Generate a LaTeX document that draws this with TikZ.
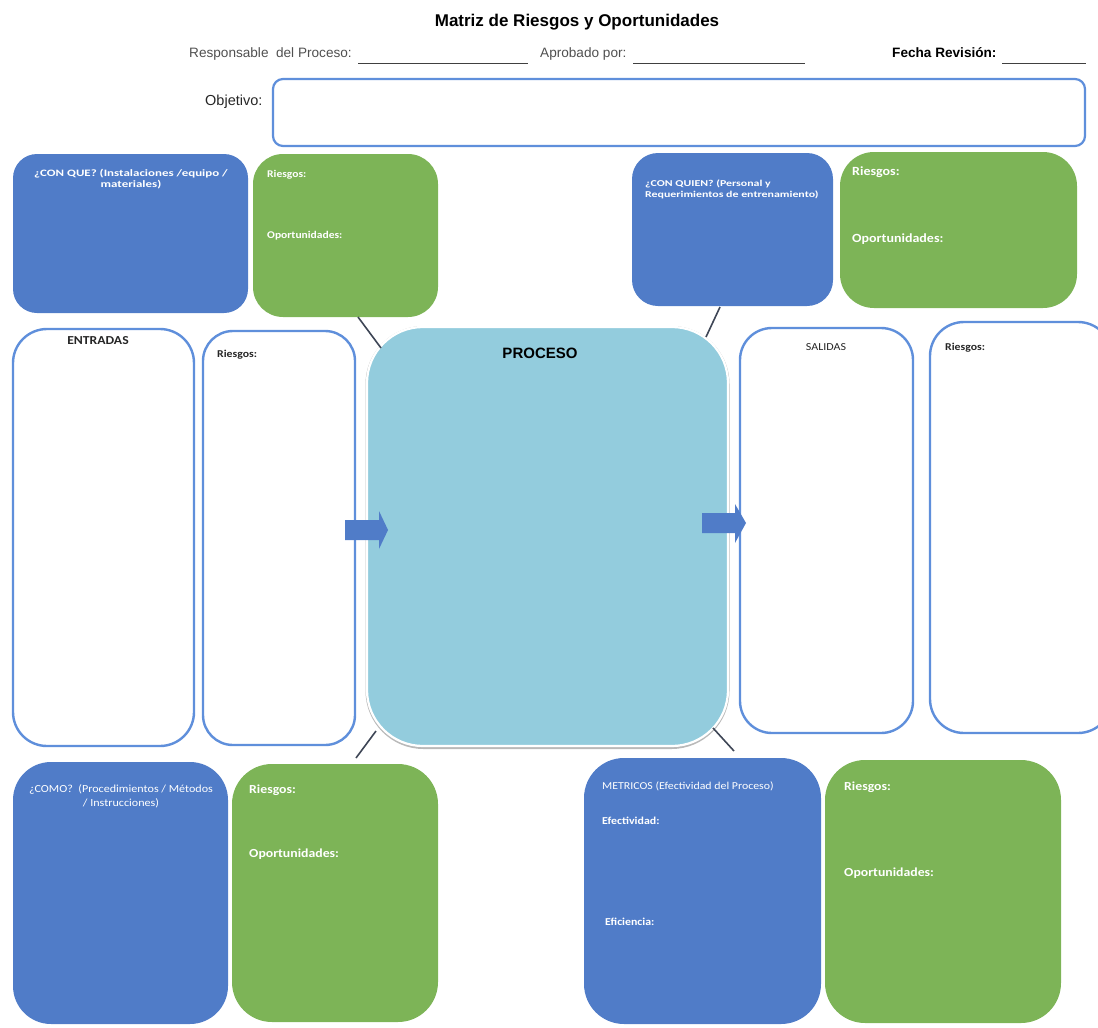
\documentclass[tikz,border=0pt]{standalone}
\usepackage{fontspec}
\setmainfont{Liberation Sans}
\newfontfamily\calfont{Carlito}[FakeStretch=1.12]
\newfontfamily\calwide{Carlito}[FakeStretch=1.32]
\definecolor{boxblue}{HTML}{507CC8}
\definecolor{boxgreen}{HTML}{7DB457}
\definecolor{procfill}{HTML}{93CCDD}
\definecolor{edgeblue}{HTML}{5F8FDB}
\definecolor{linkgray}{HTML}{3E4656}
\definecolor{headgray}{HTML}{505050}

% rounded panel given by its corners: style, name, x1, y1, x2, y2
\newcommand{\panelbox}[6]{%
  \node[#1, minimum width={#5-#3}, minimum height={#6-#4}] (#2) at (#3,#4) {};}

\begin{document}
\begin{tikzpicture}[x=1pt,y=-1pt,
  panel/.style={anchor=north west, inner sep=0pt, outer sep=0pt,
    rectangle, rounded corners=#1},
  bluepanel/.style={panel=#1, fill=boxblue},
  greenpanel/.style={panel=#1, fill=boxgreen},
  whitepanel/.style={panel=#1, fill=white, draw=edgeblue, line width=2.4pt},
  procshadow/.style={panel=#1, fill=gray!55},
  procpanel/.style={panel=#1, fill=procfill, draw=white, line width=2.2pt},
  headtxt/.style={inner sep=0pt, anchor=base west, text=headgray,
    font=\fontsize{13.6}{16}\selectfont},
  wlbl/.style={inner sep=0pt, text=white, font=\calfont\bfseries\fontsize{#1}{#1}\selectfont},
  wwide/.style={inner sep=0pt, text=white, font=\calwide\bfseries\fontsize{#1}{11}\selectfont},
  wreg/.style={inner sep=0pt, text=white, font=\calfont\fontsize{#1}{#1}\selectfont},
  klbl/.style={inner sep=0pt, text=black!85, font=\calfont\bfseries\fontsize{#1}{#1}\selectfont},
  rule/.style={draw=black!75, line width=0.8pt},
  link/.style={draw=linkgray, line width=1.6pt},
  blockarrow/.style={fill=boxblue}
]
\useasboundingbox (0,0) rectangle (1098,1028);

% ---------- header ----------
\node[inner sep=0pt, anchor=base, font=\bfseries\fontsize{17}{20}\selectfont]
  (title) at (577,26) {Matriz de Riesgos y Oportunidades};
\node[headtxt] (resp) at (189,57) {Responsable\ \ del Proceso:};
\node[headtxt] (aprob) at (540,57) {Aprobado por:};
\node[headtxt, text=black, font=\bfseries\fontsize{13.6}{16}\selectfont]
  (fecha) at (892,57) {Fecha Revisión:};
\coordinate (r1a) at (358,63); \coordinate (r1b) at (528,63);
\coordinate (r2a) at (633,63); \coordinate (r2b) at (805,63);
\coordinate (r3a) at (1002,63); \coordinate (r3b) at (1086,63);
\draw[rule] (r1a) -- (r1b);
\draw[rule] (r2a) -- (r2b);
\draw[rule] (r3a) -- (r3b);
\node[headtxt, text=black!85, font=\fontsize{14.5}{16}\selectfont] (objlbl) at (205,105) {Objetivo:};
\panelbox{whitepanel=10pt, line width=2.2pt}{objbox}{273}{79}{1085}{146}

% ---------- upper row ----------
\panelbox{bluepanel=24pt}{conque}{13}{154}{248}{313}
\panelbox{greenpanel=30pt}{riesgo1}{253}{154}{438}{317}
\panelbox{bluepanel=26pt}{conquien}{632}{153}{833}{306}
\panelbox{greenpanel=34pt}{riesgo2}{840}{152}{1077}{308}

% two-line labels: the anchor sits on the baseline of the last line
\node[wwide=9.8, align=center, anchor=base] (conquetxt) at (131,187)
  {¿CON QUE? (Instalaciones /equipo /\\ materiales)};
\node[wlbl=10.3, anchor=base west] (r1t) at (267,177) {Riesgos:};
\node[wlbl=10.3, anchor=base west] (o1t) at (267,238) {Oportunidades:};
\node[wwide=9, align=left, anchor=base west] (conquientxt) at (645,197)
  {¿CON QUIEN? (Personal y\\Requerimientos de entrenamiento)};
\node[wlbl=12.5, anchor=base west] (r2t) at (852,175) {Riesgos:};
\node[wlbl=12.5, anchor=base west] (o2t) at (852,242) {Oportunidades:};

% ---------- middle row ----------
\panelbox{whitepanel=34pt}{entradas}{13}{329}{194}{746}
\panelbox{whitepanel=30pt}{riesgoent}{203}{331}{355}{745}
\panelbox{procshadow=58pt}{procsh}{365.5}{326}{729.5}{749}
\panelbox{procpanel=56pt}{proceso}{367}{327}{728}{746}
\panelbox{whitepanel=32pt}{salidas}{740}{328}{913}{733}
\panelbox{whitepanel=34pt}{riesgosal}{930}{322}{1112}{733}

\node[klbl=12.2, anchor=base] (enttxt) at (98,344) {ENTRADAS};
\node[klbl=10.5, anchor=base west] (rent) at (217,357) {Riesgos:};
\node[inner sep=0pt, anchor=base, font=\bfseries\fontsize{15}{18}\selectfont]
  (proctxt) at (540,358) {PROCESO};
\node[inner sep=0pt, anchor=base, text=black!85, font=\calfont\fontsize{10.7}{12}\selectfont]
  (saltxt) at (826,350) {SALIDAS};
\node[klbl=10.5, anchor=base west] (rsal) at (945,350) {Riesgos:};

% block arrows into and out of the process
\fill[blockarrow] (345,520) -- (379,520) -- (379,511) -- (388,530)
  -- (379,549) -- (379,540) -- (345,540) -- cycle;
\fill[blockarrow] (702,513) -- (735,513) -- (735,504) -- (746,523)
  -- (735,543) -- (735,533) -- (702,533) -- cycle;

% ---------- lower row ----------
\panelbox{bluepanel=38pt}{como}{13}{762}{228}{1024}
\panelbox{greenpanel=40pt}{riesgo3}{232}{764}{438}{1022}
\panelbox{bluepanel=40pt}{metricos}{584}{758}{821}{1024}
\panelbox{greenpanel=40pt}{riesgo4}{825}{760}{1061}{1023}

\node[wreg=10.8, align=center, anchor=base] (comotxt) at (121,806)
  {¿COMO?\ \ (Procedimientos / Métodos\\[3pt] / Instrucciones)};
\node[wlbl=12.3, anchor=base west] (r3t) at (249,793) {Riesgos:};
\node[wlbl=12.3, anchor=base west] (o3t) at (249,857) {Oportunidades:};
\node[wreg=10.6, anchor=base west] (mettxt) at (602,789) {METRICOS (Efectividad del Proceso)};
\node[wlbl=10.6, anchor=base west] (efect) at (602,824) {Efectividad:};
\node[wlbl=10.6, anchor=base west] (efic) at (605,925) {Eficiencia:};
\node[wlbl=12.3, anchor=base west] (r4t) at (844,790) {Riesgos:};
\node[wlbl=12.3, anchor=base west] (o4t) at (844,876) {Oportunidades:};

% ---------- links from the process to its four resources ----------
\coordinate (l1a) at (358,317); \coordinate (l1b) at (381,348);
\coordinate (l2a) at (720,307); \coordinate (l2b) at (706,337);
\coordinate (l3a) at (376,731); \coordinate (l3b) at (356,758);
\coordinate (l4a) at (713,728); \coordinate (l4b) at (734,751);
\draw[link] (l1a) -- (l1b);
\draw[link] (l2a) -- (l2b);
\draw[link] (l3a) -- (l3b);
\draw[link] (l4a) -- (l4b);
\end{tikzpicture}
\end{document}
